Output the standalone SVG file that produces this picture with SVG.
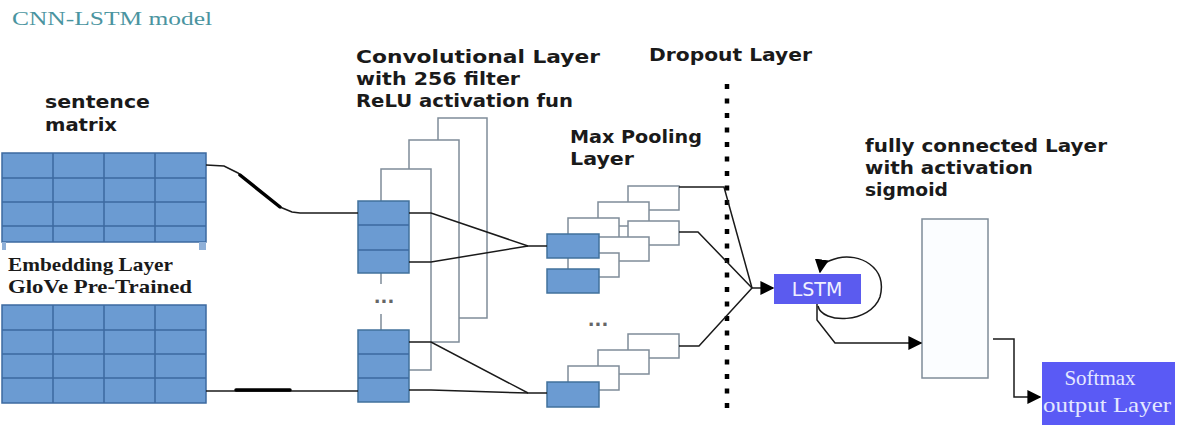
<svg xmlns="http://www.w3.org/2000/svg" width="1182" height="425" viewBox="0 0 1182 425">
<defs>
<style>
.lbl{font-family:"DejaVu Sans",Verdana,sans-serif;font-weight:bold;font-size:18.5px;fill:#1a1a1a}
.ser{font-family:"Liberation Serif","Times New Roman",serif;font-weight:bold;font-size:19px;fill:#1a1a1a}
.mat{fill:#6b9bd2;stroke:#3d6aa0;stroke-width:1.5}
.grid{stroke:#3d6aa0;stroke-width:1.5}
.blue{fill:#6b9bd2;stroke:#41719c;stroke-width:1.5}
.wr{fill:#ffffff;stroke:#7f8c99;stroke-width:1.5}
.ln{fill:none;stroke:#1a1a1a;stroke-width:1.5}
.thick{fill:none;stroke:#000;stroke-width:3.5;stroke-linecap:round}
.dots{font-family:"DejaVu Sans",sans-serif;font-size:18px;font-weight:bold;fill:#666}
.sm{font-family:"Liberation Serif","Times New Roman",serif;font-size:21px;fill:#e4e8ff}
</style>
<marker id="arr2" viewBox="0 0 10 10" refX="9" refY="5" markerWidth="14" markerHeight="14" markerUnits="userSpaceOnUse" orient="auto">
<path d="M0,0 L10,5 L0,10 z" fill="#000"/>
</marker>
</defs>
<rect width="1182" height="425" fill="#ffffff"/>

<text x="12" y="25" style="font-family:'Liberation Serif','Times New Roman',serif;font-size:19px;fill:#4a94a0" textLength="200" lengthAdjust="spacingAndGlyphs">CNN-LSTM model</text>

<g id="labels">
<text class="lbl" x="45" y="108" textLength="105" lengthAdjust="spacingAndGlyphs">sentence</text>
<text class="lbl" x="45" y="131" textLength="72" lengthAdjust="spacingAndGlyphs">matrix</text>
<text class="ser" x="8" y="271" textLength="165" lengthAdjust="spacingAndGlyphs">Embedding Layer</text>
<text class="ser" x="8" y="293" textLength="184" lengthAdjust="spacingAndGlyphs">GloVe Pre-Trained</text>
<text class="lbl" x="356" y="63" textLength="244" lengthAdjust="spacingAndGlyphs">Convolutional Layer</text>
<text class="lbl" x="356" y="85" textLength="164" lengthAdjust="spacingAndGlyphs">with 256 filter</text>
<text class="lbl" x="356" y="107" textLength="217" lengthAdjust="spacingAndGlyphs">ReLU activation fun</text>
<text class="lbl" x="570" y="143" textLength="132" lengthAdjust="spacingAndGlyphs">Max Pooling</text>
<text class="lbl" x="570" y="165" textLength="64" lengthAdjust="spacingAndGlyphs">Layer</text>
<text class="lbl" x="649" y="61" textLength="163" lengthAdjust="spacingAndGlyphs">Dropout Layer</text>
<text class="lbl" x="865" y="152" textLength="242" lengthAdjust="spacingAndGlyphs">fully connected Layer</text>
<text class="lbl" x="865" y="174" textLength="168" lengthAdjust="spacingAndGlyphs">with activation</text>
<text class="lbl" x="865" y="196" textLength="83" lengthAdjust="spacingAndGlyphs">sigmoid</text>
</g>

<g id="matrix-top">
<rect class="mat" x="2" y="153" width="204" height="89"/>
<rect x="2" y="242" width="4" height="8" fill="#8fb0d8"/>
<rect x="199" y="242" width="7" height="8" fill="#8fb0d8"/>
<path class="grid" d="M53,153V242M104,153V242M155,153V242M2,178H206M2,202H206M2,226H206"/>
</g>
<g id="matrix-bottom">
<rect class="mat" x="2" y="305" width="204" height="98"/>
<path class="grid" d="M53,305V403M104,305V403M155,305V403M2,330H206M2,354H206M2,378H206"/>
</g>

<g id="conv">
<rect class="wr" x="438" y="118" width="49" height="200"/>
<rect class="wr" x="409" y="140" width="50" height="202"/>
<rect class="wr" x="381" y="169" width="50" height="201"/>
<rect x="370" y="284" width="28" height="30" fill="#fff"/>
<text class="dots" x="384" y="308" text-anchor="middle">···</text>
<rect class="blue" x="358" y="201" width="51" height="72"/>
<path class="grid" d="M358,225H409M358,250H409"/>
<rect class="blue" x="358" y="330" width="51" height="72"/>
<path class="grid" d="M358,354H409M358,378H409"/>
</g>

<g id="pool">
<rect class="wr" x="628" y="186" width="51" height="24"/>
<rect class="wr" x="598" y="202" width="51" height="24"/>
<rect class="wr" x="568" y="218" width="51" height="24"/>
<rect class="wr" x="628" y="221" width="51" height="24"/>
<rect class="wr" x="598" y="237" width="51" height="24"/>
<rect class="wr" x="568" y="253" width="51" height="24"/>
<rect class="blue" x="547" y="234" width="52" height="24"/>
<rect class="blue" x="547" y="269" width="52" height="24"/>
<text class="dots" x="598" y="331" text-anchor="middle">···</text>
<rect class="wr" x="628" y="334" width="51" height="24"/>
<rect class="wr" x="598" y="350" width="51" height="24"/>
<rect class="wr" x="568" y="366" width="51" height="24"/>
<rect class="blue" x="547" y="382" width="52" height="25"/>
</g>

<g id="dropout">
<line x1="727" y1="84" x2="727" y2="412" stroke="#000" stroke-width="4.5" stroke-dasharray="5 9.5"/>
</g>

<g id="lstm">
<rect x="774" y="274" width="87" height="30" fill="#5b5bef"/>
<text x="817" y="296" text-anchor="middle" style="font-family:'DejaVu Sans',Verdana,sans-serif;font-size:19px;fill:#f0f0ff">LSTM</text>
</g>

<g id="fc">
<rect x="922" y="219" width="66" height="159" fill="#fbfdff" stroke="#7f8c99" stroke-width="1.5"/>
</g>

<g id="softmax">
<rect x="1042" y="362" width="133" height="63" fill="#5a5af5"/>
<text class="sm" x="1100" y="385" text-anchor="middle">Softmax</text>
<text class="sm" x="1043" y="412" textLength="128" lengthAdjust="spacingAndGlyphs">output Layer</text>
</g>

<g id="connectors">
<path class="ln" d="M206,165 L224,166 L238,173 L280,207 L292,212 L300,213 H358"/>
<path class="thick" d="M240,175 L280,207"/>
<path class="ln" d="M206,391 H358"/>
<path class="thick" d="M236,390 H290"/>
<path class="ln" d="M409,213 H431 L528,246 H547"/>
<path class="ln" d="M409,262 H431 L528,246"/>
<path class="ln" d="M409,342 H431 L528,393 H547"/>
<path class="ln" d="M409,390 H431 L528,393"/>
<path class="ln" d="M679,187 H724 L752,288"/>
<path class="ln" d="M679,232 H698 L752,288"/>
<path class="ln" d="M679,346 H699 L752,288"/>
<path class="ln" d="M752,288 H773" marker-end="url(#arr2)"/>
<path class="ln" d="M818,306 C822,324 870,324 880,297 C888,266 858,253 838,258 C826,261 821,265 820,272" marker-end="url(#arr2)"/>
<path class="ln" d="M817,304 V320 L835,343 H921" marker-end="url(#arr2)"/>
<path class="ln" d="M993,339 H1014 V397 H1040" marker-end="url(#arr2)"/>
</g>
</svg>
